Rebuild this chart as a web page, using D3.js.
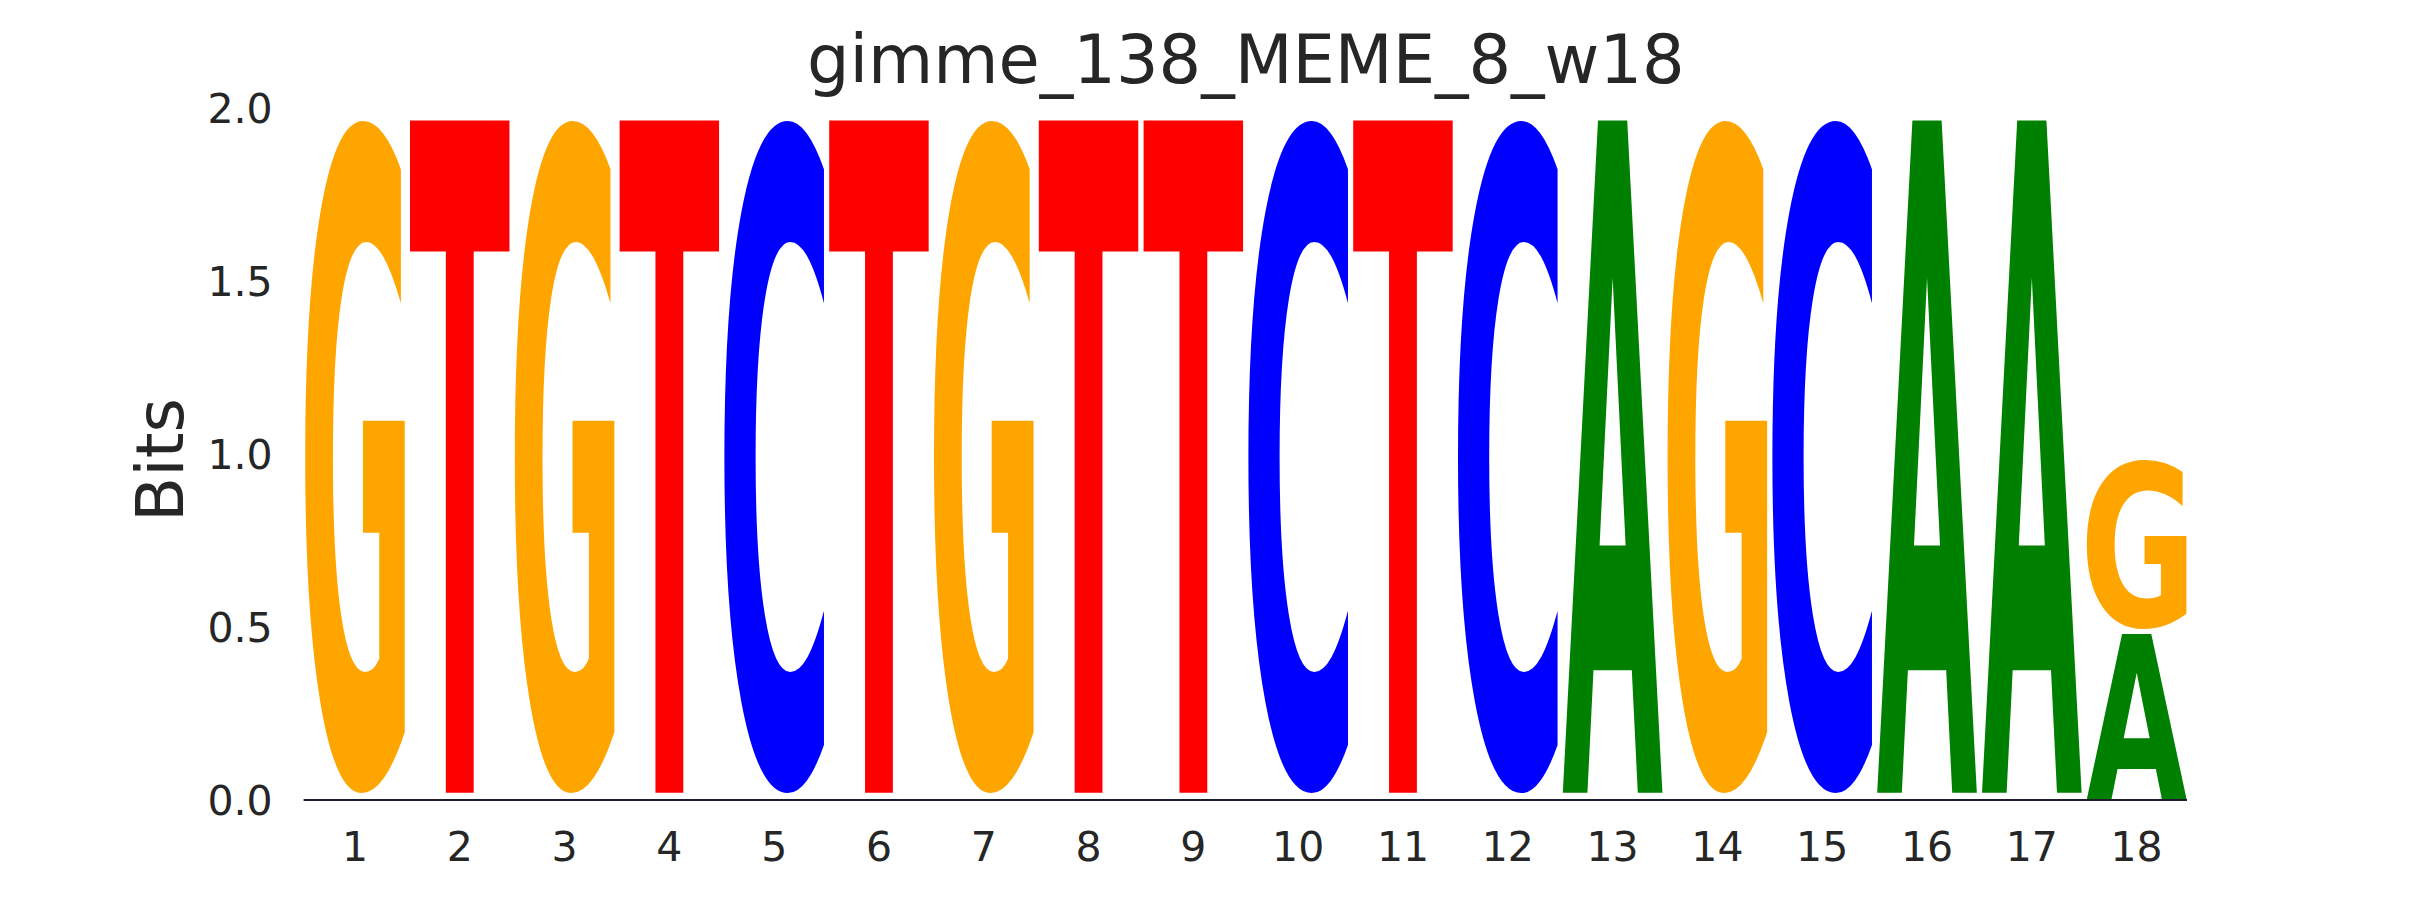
<!DOCTYPE html>
<html>
<head>
<meta charset="utf-8">
<style>
  body { margin: 0; background: #fff; }
  text { font-family: 'DejaVu Sans', sans-serif; }
</style>
<script src="https://d3js.org/d3.v7.min.js"></script>
</head>
<body>
<svg width="2430" height="900"></svg>
<script>
    // motif positions (x tick labels)
    var positions = ["1", "2", "3", "4", "5", "6", "7", "8", "9", "10", "11", "12", "13", "14", "15", "16", "17", "18"];
    // information (bits) carried by each base at each position
    var bitsA = [0, 0, 0, 0, 0, 0, 0, 0, 0, 0, 0, 0, 1.99, 0, 0, 1.99, 1.99, 0.49];
    var bitsC = [0, 0, 0, 0, 1.99, 0, 0, 0, 0, 1.99, 0, 1.99, 0, 0, 1.99, 0, 0, 0];
    var bitsG = [1.99, 0, 1.99, 0, 0, 0, 1.99, 0, 0, 0, 0, 0, 0, 1.99, 0, 0, 0, 0.50];
    var bitsT = [0, 1.99, 0, 1.99, 0, 1.99, 0, 1.99, 1.99, 0, 1.99, 0, 0, 0, 0, 0, 0, 0];
    var yTicks = [0, 0.5, 1.0, 1.5, 2.0];

    var colors = { A: "#008000", C: "#0000ff", G: "#ffa500", T: "#ff0000" };
    var glyphSize = 800;
    var glyphFont = "bold " + glyphSize + "px 'DejaVu Sans'";

    var svg = d3.select("svg");
    var plotLeft = 302.6, plotRight = 2189, plotTop = 109, plotBottom = 801;

    var x = d3.scaleBand().domain(positions).range([plotLeft, plotRight]).padding(0);
    var y = d3.scaleLinear().domain([0, 2]).range([plotBottom, plotTop]);

    // title
    svg.append("text")
        .attr("x", (plotLeft + plotRight) / 2)
        .attr("y", 83)
        .attr("text-anchor", "middle")
        .attr("font-size", "67px")
        .attr("fill", "#262626")
        .text("gimme_138_MEME_8_w18");

    // y label
    svg.append("text")
        .attr("transform", "translate(183,460) rotate(-90)")
        .attr("text-anchor", "middle")
        .attr("font-size", "66px")
        .attr("fill", "#262626")
        .text("Bits");

    // axes
    var yAxis = svg.append("g")
        .attr("transform", "translate(" + plotLeft + ",0)")
        .call(d3.axisLeft(y).tickValues(yTicks).tickFormat(d3.format(".1f")).tickSize(0).tickPadding(30));
    yAxis.select(".domain").remove();
    yAxis.selectAll("text").attr("font-size", "41px").attr("fill", "#262626").attr("font-family", "'DejaVu Sans'");

    var xAxis = svg.append("g")
        .attr("transform", "translate(0," + plotBottom + ")")
        .call(d3.axisBottom(x).tickSize(0).tickPadding(31));
    xAxis.select(".domain").remove();
    xAxis.selectAll("text").attr("font-size", "41px").attr("fill", "#262626").attr("font-family", "'DejaVu Sans'");

    // measure ink bounds of each glyph by scanning a large canvas
    var cw = 1000, ch = 1000, ox = 100, oy = 850;
    var cv = document.createElement("canvas");
    cv.width = cw; cv.height = ch;
    var ctx = cv.getContext("2d");
    var ink = {};
    ["A", "C", "G", "T"].forEach(function (c) {
        ctx.clearRect(0, 0, cw, ch);
        ctx.font = glyphFont;
        ctx.fillStyle = "#000";
        ctx.fillText(c, ox, oy);
        var px = ctx.getImageData(0, 0, cw, ch).data;
        var minX = cw, maxX = -1, minY = ch, maxY = -1;
        for (var yy = 0; yy < ch; yy++) {
            for (var xx = 0; xx < cw; xx++) {
                if (px[(yy * cw + xx) * 4 + 3] > 64) {
                    if (xx < minX) minX = xx;
                    if (xx > maxX) maxX = xx;
                    if (yy < minY) minY = yy;
                    if (yy > maxY) maxY = yy;
                }
            }
        }
        ink[c] = { l: ox - minX, r: maxX + 1 - ox, a: oy - minY, d: maxY + 1 - oy };
    });

    var g = svg.append("g");
    var vpad = 0.012;
    positions.forEach(function (p, i) {
        var stack = [
            { base: "A", h: bitsA[i] }, { base: "C", h: bitsC[i] },
            { base: "G", h: bitsG[i] }, { base: "T", h: bitsT[i] }
        ].filter(function (d) { return d.h > 0; })
         .sort(function (a, b) { return a.h - b.h; });
        var w = x.bandwidth() * 0.95;
        var x0 = x(p) + (x.bandwidth() - w) / 2;
        var cum = 0;
        stack.forEach(function (d) {
            var b0 = cum + d.h * vpad, b1 = cum + d.h - d.h * vpad;
            cum += d.h;
            var k = ink[d.base];
            var yTop = y(b1), yBot = y(b0);
            var sx = w / (k.l + k.r), sy = (yBot - yTop) / (k.a + k.d);
            g.append("text")
                .attr("transform", "translate(" + (x0 + k.l * sx) + "," + (yBot - k.d * sy) + ") scale(" + sx + "," + sy + ")")
                .style("font", glyphFont)
                .attr("fill", colors[d.base])
                .text(d.base);
        });
    });

    // baseline
    svg.append("line")
        .attr("x1", plotLeft + 1).attr("x2", plotRight - 2)
        .attr("y1", y(0) - 1).attr("y2", y(0) - 1)
        .attr("stroke", "#1c1c2c")
        .attr("stroke-width", 2);
</script>
</body>
</html>
